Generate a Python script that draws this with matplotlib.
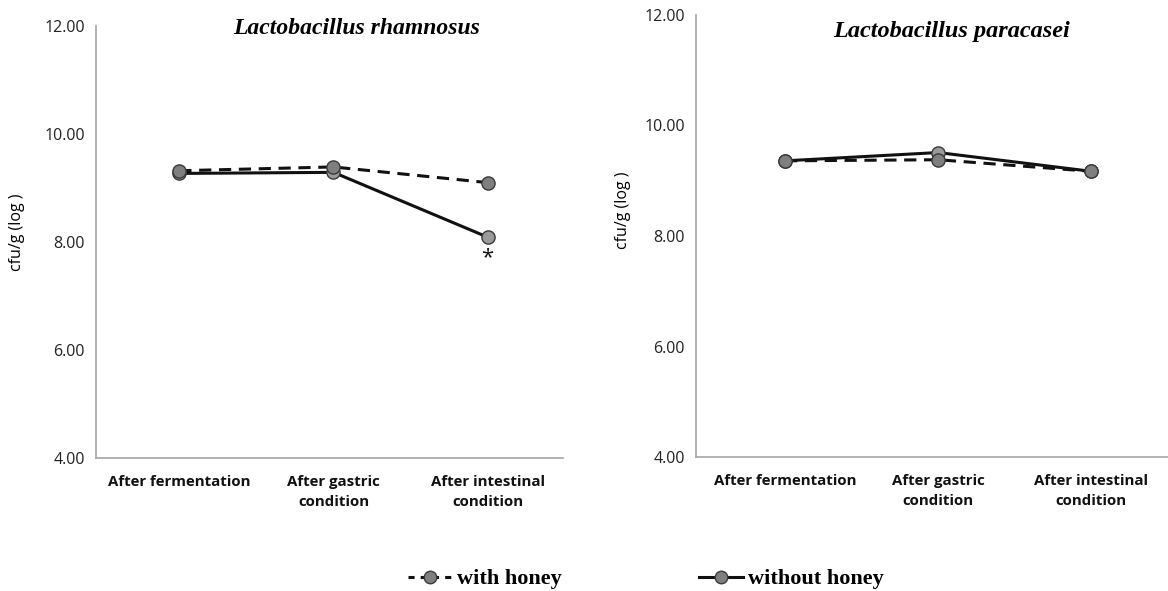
import matplotlib
matplotlib.use('Agg')
import matplotlib.pyplot as plt
from matplotlib.lines import Line2D

OUT = 'out.png'

categories = ['After fermentation', 'After gastric\ncondition', 'After intestinal\ncondition']
yticks = [4, 6, 8, 10, 12]

# L. rhamnosus
rham_honey = [9.32, 9.39, 9.10]
rham_plain = [9.27, 9.29, 8.09]
# L. paracasei
para_honey = [9.36, 9.38, 9.17]
para_plain = [9.36, 9.51, 9.17]

titles = ['Lactobacillus rhamnosus', 'Lactobacillus paracasei']

plt.rcParams['font.family'] = ['Open Sans', 'DejaVu Sans']

fig = plt.figure(figsize=(11.68, 5.91), dpi=100)
ax1 = fig.add_axes([0.0822, 0.225, 0.400, 0.731])
ax2 = fig.add_axes([0.596, 0.2267, 0.404, 0.748])

GRAY = '#7f7f7f'
EDGE = '#3a3a3a'

def panel(ax, honey, plain, title, xlim, tx, ty, tsize):
    x = range(len(categories))
    ax.plot(x, honey, ls=(0, (4, 2.5)), lw=2.2, color='#111111',
            marker='o', ms=9.5, mfc=GRAY, mec=EDGE, mew=1, zorder=3)
    ax.plot(x, plain, ls='-', lw=2.2, color='#111111',
            marker='o', ms=9.5, mfc='#9a9a9a', mec=EDGE, mew=1, zorder=2)
    ax.set_ylim(4, 12)
    ax.set_xlim(*xlim)
    ax.set_yticks(yticks)
    ax.set_yticklabels([f'{v:.2f}' for v in yticks], fontsize=11.5, color='#222222')
    ax.set_xticks(list(x))
    ax.set_xticklabels(categories, fontsize=10.8, fontweight='bold', color='#111111',
                       linespacing=1.6)
    ax.tick_params(axis='x', length=0, pad=12)
    ax.tick_params(axis='y', length=0, pad=8)
    for s in ['top', 'right']:
        ax.spines[s].set_visible(False)
    for s in ['left', 'bottom']:
        ax.spines[s].set_color('#a6a6a6')
        ax.spines[s].set_linewidth(1.2)
    ax.set_ylabel('cfu/g (log )', fontsize=11.5)
    ax.text(tx, ty, title, transform=ax.transAxes, ha='center', va='center',
            fontsize=tsize, fontweight='bold', fontstyle='italic',
            family='Liberation Serif')

panel(ax1, rham_honey, rham_plain, titles[0], (-0.54, 2.49), 0.557, 0.995, 17)
panel(ax2, para_honey, para_plain, titles[1], (-0.58, 2.50), 0.542, 0.962, 17.5)
ax1.yaxis.set_label_coords(-0.152, 0.523)
ax2.yaxis.set_label_coords(-0.138, 0.559)

# significance mark
ax1.text(2, rham_plain[2] - 0.18, '*', ha='center', va='top', fontsize=16,
         color='#111111')

h1 = Line2D([], [], ls=(0, (2, 2)), lw=2.2, color='#111111', marker='o', ms=9,
            mfc=GRAY, mec=EDGE)
h2 = Line2D([], [], ls='-', lw=2.2, color='#111111', marker='o', ms=9,
            mfc=GRAY, mec=EDGE)
fig.legend([h1, h2], ['with honey', 'without honey'], loc='center',
           bbox_to_anchor=(0.553, 0.02), ncol=2, frameon=False,
           prop={'family': 'Liberation Serif', 'weight': 'bold', 'size': 16},
           handlelength=1.95, columnspacing=6.2, handletextpad=0.25)

fig.savefig(OUT, dpi=100, facecolor='white')
